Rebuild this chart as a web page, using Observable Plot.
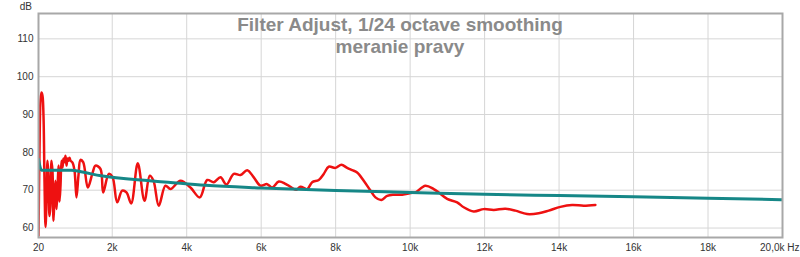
<!DOCTYPE html>
<html><head><meta charset="utf-8">
<script src="https://cdn.jsdelivr.net/npm/d3@7"></script>
<script src="https://cdn.jsdelivr.net/npm/@observablehq/plot@0.6"></script>
<style>body{margin:0;background:#fff;overflow:hidden}</style>
</head><body><div id="chart"></div>
<script>
const titleLines = ["Filter Adjust, 1/24 octave smoothing", "meranie pravy"];
const yLabel = "dB";
const xTicks = [20, 2000, 4000, 6000, 8000, 10000, 12000, 14000, 16000, 18000, 20000];
const xTickLabels = ["20", "2k", "4k", "6k", "8k", "10k", "12k", "14k", "16k", "18k", "20,0k Hz"];
const yTicks = [60, 70, 80, 90, 100, 110];

const measFreq = [20,47,74,100,127,154,181,208,235,262,289,315,342,369,396,423,450,476,503,530,557,584,611,638,664,691,718,745,772,799,826,852,879,933,987,1040,1094,1148,1220,1344,1470,1550,1685,1757,1908,2007,2133,2267,2383,2509,2686,2866,3008,3108,3250,3430,3564,3833,4101,4351,4550,4727,4907,5068,5264,5444,5624,5801,5981,6161,6295,6472,6652,6786,6939,7055,7235,7369,7546,7680,7815,7994,8156,8309,8443,8577,8754,8934,9068,9230,9383,9560,9785,10054,10142,10411,10634,10768,10994,11262,11439,11708,11976,12245,12559,12827,13142,13453,13722,14036,14350,14661,14975];
const measDb = [58.0,80.4,93.7,95.8,95.0,89.7,72.5,60.3,67.0,77.8,73.8,63.2,65.8,77.8,75.0,61.9,68.6,72.5,65.0,69.9,76.5,67.0,71.2,77.8,76.0,78.4,77.4,79.1,76.5,78.4,77.8,78.6,77.8,77.3,75.2,68.1,74.0,78.0,77.4,70.7,74.5,76.5,75.6,69.4,74.3,73.5,66.8,69.9,69.4,66.5,77.1,67.2,73.8,72.5,65.9,71.2,70.3,72.5,70.7,68.1,72.7,72.1,73.4,71.5,74.3,74.0,75.3,73.4,71.2,71.6,70.7,72.3,71.7,70.9,70.1,70.9,70.3,72.1,72.7,74.3,76.2,75.9,76.7,75.9,75.3,74.7,72.5,69.9,68.1,67.4,68.5,68.8,68.8,69.3,69.4,71.2,70.3,69.4,67.7,66.8,65.5,64.4,65.0,64.8,65.1,64.6,63.7,63.9,64.6,65.6,66.1,65.9,66.1];

const targetFreq = [20, 100, 900, 1200, 1700, 3000, 3500, 4500, 6000, 8000, 10000, 12000, 14000, 16000, 18000, 20000];
const targetDb = [78.2, 75.3, 75.3, 74.8, 73.8, 72.5, 72.1, 71.3, 70.6, 69.9, 69.4, 68.9, 68.6, 68.3, 67.9, 67.5];

const meas = measFreq.map((f, i) => ({f, db: measDb[i]}));
const target = targetFreq.map((f, i) => ({f, db: targetDb[i]}));
const labelMap = new Map(xTicks.map((t, i) => [t, xTickLabels[i]]));
const gridXs = xTicks.slice(1, -1);
const innerTicks = xTicks.slice(0, -1);
const lastTick = xTicks.slice(-1);

const chart = Plot.plot({
  width: 800, height: 257,
  marginLeft: 38, marginRight: 18, marginTop: 13, marginBottom: 20,
  style: {fontFamily: "'Liberation Sans', Arial, sans-serif", fontSize: "10px", color: "#333", background: "#fff"},
  x: {type: "linear", domain: [20, 20000]},
  y: {domain: [57.5, 116.7]},
  marks: [
    Plot.gridX(gridXs, {stroke: "#d6d6d6", strokeOpacity: 1}),
    Plot.gridY(yTicks, {stroke: "#d6d6d6", strokeOpacity: 1}),
    Plot.axisX(innerTicks, {tickSize: 0, tickPadding: 6, tickFormat: d => labelMap.get(d), label: null}),
    Plot.axisX(lastTick, {tickSize: 0, tickPadding: 6, tickFormat: d => labelMap.get(d), label: null, textAnchor: "end", dx: 17}),
    Plot.axisY(yTicks, {tickSize: 0, tickPadding: 5, label: null}),
    Plot.line(meas, {x: "f", y: "db", stroke: "#ee1111", strokeWidth: 2.5, curve: "catmull-rom", clip: true}),
    Plot.line(target, {x: "f", y: "db", stroke: "#168787", strokeWidth: 3, curve: "monotone-x", clip: true}),
    Plot.frame({stroke: "#a8a8a8", strokeWidth: 2})
  ]
});
document.getElementById("chart").append(chart);

const svg = d3.select(chart);
svg.append("text").attr("x", 32).attr("y", 10).attr("text-anchor", "end")
  .attr("font-size", 10).attr("fill", "#333").text(yLabel);
titleLines.forEach((t, i) => {
  svg.append("text").attr("x", 400).attr("y", 31 + i * 22).attr("text-anchor", "middle")
    .attr("font-size", 19).attr("font-weight", "bold").attr("fill", "#8a8a8a").text(t);
});
</script></body></html>
